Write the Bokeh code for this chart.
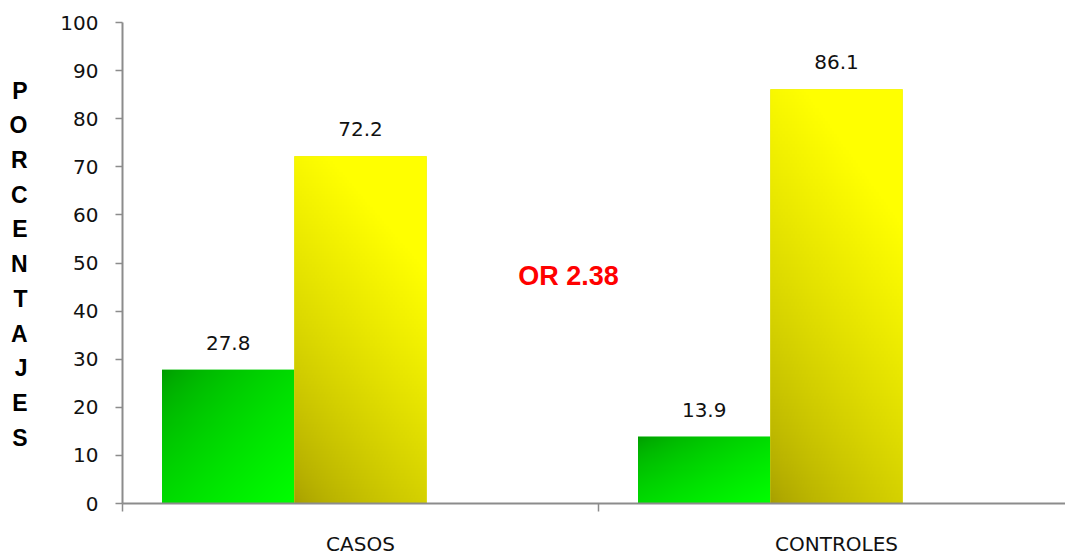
import numpy as np
from bokeh.plotting import figure
from bokeh.models import Range1d, FixedTicker, Label, LinearAxis
from bokeh.core.properties import value
from bokeh.embed import file_html
from bokeh.resources import INLINE

# Data
categories = ["CASOS", "CONTROLES"]
green_vals = [27.8, 13.9]
yellow_vals = [72.2, 86.1]
or_text = "OR 2.38"
y_ticks = [0, 10, 20, 30, 40, 50, 60, 70, 80, 90, 100]
axis_letters = list("PORCENTAJES")

BAR_W = 0.278          # width of one bar slot, in category units
N = 128                # gradient image resolution
AXIS_GRAY = "#8c8c8c"
TXT_FONT = "DejaVu Sans"


def gradient(kind):
    u = np.linspace(0, 1, N)[None, :].repeat(N, 0)      # left -> right
    v = np.linspace(0, 1, N)[:, None].repeat(N, 1)      # bottom -> top
    if kind == "green":
        s = ((u + (1 - v)) / 2) ** 0.6
        lo, hi = np.array([0, 150, 0]), np.array([0, 255, 0])
    else:
        s = np.clip(0.4 * u + 0.9 * v, 0, 1) ** 0.7
        lo, hi = np.array([166, 158, 0]), np.array([255, 255, 0])
    img = np.empty((N, N), dtype=np.uint32)
    view = img.view(dtype=np.uint8).reshape((N, N, 4))
    for c in range(3):
        view[:, :, c] = (lo[c] + (hi[c] - lo[c]) * s).astype(np.uint8)
    view[:, :, 3] = 255
    return img


x_max = 943 / 476
p = figure(width=1065, height=559, output_backend="svg", toolbar_location=None,
           x_range=Range1d(0, x_max), y_range=Range1d(0, 100),
           min_border_left=122, min_border_right=0, min_border_top=22,
           min_border_bottom=56)
p.outline_line_color = None
p.xgrid.visible = False
p.ygrid.visible = False
p.background_fill_color = "white"
p.border_fill_color = "white"

green_img = gradient("green")
yellow_img = gradient("yellow")

for i, cat in enumerate(categories):
    gx = i + 0.5 - BAR_W
    yx = i + 0.5
    for cx, val, img, base in ((gx, green_vals[i], green_img, "#00d000"),
                               (yx, yellow_vals[i], yellow_img, "#e0e000")):
        p.vbar(x=[cx], top=[val], width=BAR_W, fill_color=base, line_color=None)
        p.image_rgba(image=[img], x=[cx - BAR_W / 2], y=[0], dw=[BAR_W], dh=[val])
        p.text(x=[cx], y=[val], text=[f"{val:.1f}"], text_align="center",
               text_baseline="middle", y_offset=-27,
               text_font=value(TXT_FONT), text_font_size="20px",
               text_color="#111111")

# x axis: category names centred, boundary ticks between categories
xa = p.xaxis[0]
xa.ticker = FixedTicker(ticks=[0.5, 1.5], minor_ticks=[0, 1, 2])
xa.major_label_overrides = {0.5: categories[0], 1.5: categories[1]}
xa.major_tick_line_color = None
xa.major_tick_out = 0
xa.major_tick_in = 0
xa.minor_tick_line_color = AXIS_GRAY
xa.minor_tick_out = 8
xa.minor_tick_in = 0
xa.minor_tick_line_width = 1.5
xa.axis_line_color = AXIS_GRAY
xa.axis_line_width = 2
xa.major_label_standoff = 20
xa.major_label_text_font = TXT_FONT
xa.major_label_text_font_size = "20px"
xa.major_label_text_color = "#111111"

ya = p.yaxis[0]
ya.ticker = FixedTicker(ticks=y_ticks)
ya.minor_tick_line_color = None
ya.major_tick_line_color = AXIS_GRAY
ya.major_tick_line_width = 1.5
ya.major_tick_out = 7
ya.major_tick_in = 0
ya.axis_line_color = AXIS_GRAY
ya.axis_line_width = 2
ya.major_label_standoff = 17
ya.major_label_text_font = TXT_FONT
ya.major_label_text_font_size = "20px"
ya.major_label_text_color = "#111111"

# odds ratio annotation
p.add_layout(Label(x=0.937, y=47.3, text=or_text, text_align="center",
                   text_baseline="middle", text_font="Liberation Sans",
                   text_font_style="bold", text_font_size="27px",
                   text_color="#ff0000"))

# stacked vertical axis title, one letter per line
letter_ys = [round(85.85 - k * 7.22, 2) for k in range(len(axis_letters))]
title_axis = LinearAxis(ticker=FixedTicker(ticks=letter_ys),
                        major_label_overrides={y: ch for y, ch in zip(letter_ys, axis_letters)})
title_axis.axis_line_color = None
title_axis.major_tick_line_color = None
title_axis.minor_tick_line_color = None
title_axis.major_tick_out = 0
title_axis.major_tick_in = 0
title_axis.major_label_standoff = 30
title_axis.major_label_text_font = "Liberation Sans"
title_axis.major_label_text_font_style = "bold"
title_axis.major_label_text_font_size = "23px"
title_axis.major_label_text_color = "#000000"
p.add_layout(title_axis, "left")

open("out.html", "w").write(file_html(p, INLINE))
